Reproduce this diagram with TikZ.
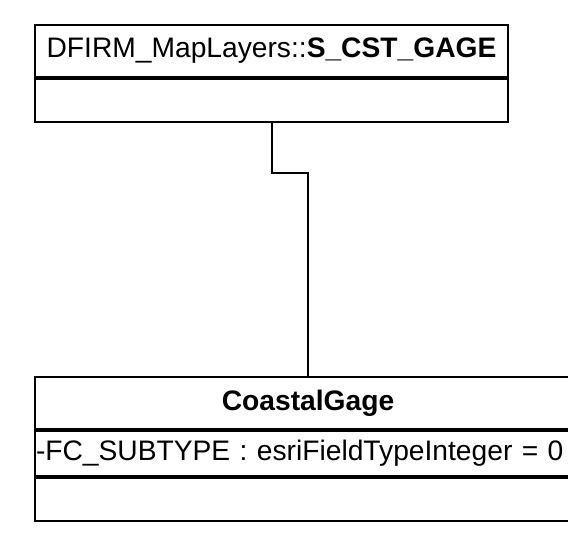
\documentclass[tikz,border=0pt]{standalone}
\usepackage{fontspec}
\setmainfont{Liberation Sans}
\usetikzlibrary{positioning}
\tikzset{classpart/.style={draw, rectangle, inner sep=0pt, minimum width=473pt, font=\fontsize{28.2}{31}\selectfont}}

\begin{document}
\begin{tikzpicture}[x=1pt, y=-1pt, line width=2pt]
  \clip (0,0) rectangle (568,533);
  % feature class in the map layers package
  \node[classpart, minimum height=52pt, anchor=north west] (cstname) at (34,24) {DFIRM\_MapLayers::\textbf{S\_CST\_GAGE}};
  \node[classpart, minimum height=43pt, below=0pt of cstname] (cstbody) {};
  % subtype class
  \node[classpart, minimum width=546pt, minimum height=52pt, anchor=north west] (gagename) at (34,376) {\textbf{CoastalGage}};
  \node[classpart, minimum width=546pt, minimum height=45pt, inner xsep=1pt, text width=544pt, align=left, below=0pt of gagename] (gageattr) {-FC\_SUBTYPE : esriFieldTypeInteger = 0};
  \node[classpart, minimum width=546pt, minimum height=43pt, below=0pt of gageattr] (gageops) {};
  \draw (cstbody.south) -- ++(0,50) -| (gagename.north);
\end{tikzpicture}
\end{document}
